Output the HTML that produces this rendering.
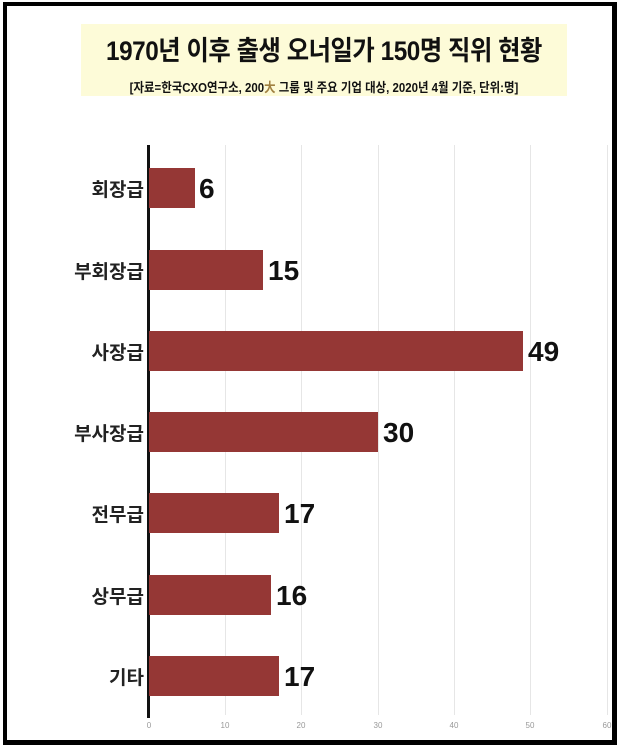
<!DOCTYPE html>
<html><head><meta charset="utf-8"><style>
body{margin:0;width:620px;height:746px;background:#fff;position:relative;overflow:hidden;font-family:"Liberation Sans","Noto Sans CJK KR",sans-serif}
.frame{position:absolute;left:3px;top:2px;width:605px;height:734px;border:4px solid #000;border-right-width:5px;border-bottom-width:5px}
.hl{position:absolute;left:81px;top:24px;width:486px;height:72px;background:#fdfbd8}
.t{position:absolute;left:81px;width:486px;text-align:center;font-weight:bold;color:#111;white-space:nowrap}
.g{position:absolute;top:145px;width:1px;height:570px;background:#e6e6e6}
.bar{position:absolute;left:149px;height:40px;background:#953735}
.lab{position:absolute;right:476px;font-weight:bold;font-size:19px;color:#222;text-align:right}
.v{position:absolute;font-weight:bold;font-size:28px;color:#111}
.tk{position:absolute;top:721px;font-size:8px;color:#999;width:20px;margin-left:-10px;text-align:center}
</style></head><body>
<div class="frame"></div>
<div class="hl"></div>
<div class="t" style="top:29px;font-size:27px;transform:scaleX(0.9);letter-spacing:-0.5px">1970년 이후 출생 오너일가 150명 직위 현황</div>
<div class="t" style="top:77px;font-size:13px;transform:scaleX(0.88)">[자료=한국CXO연구소, 200<span style="color:#a08040">大</span> 그룹 및 주요 기업 대상, 2020년 4월 기준, 단위:명]</div>
<div class="g" style="left:225px"></div><div class="g" style="left:301px"></div><div class="g" style="left:378px"></div><div class="g" style="left:454px"></div><div class="g" style="left:530px"></div><div class="g" style="left:607px"></div>
<div style="position:absolute;left:147px;top:145px;width:3px;height:573px;background:#111"></div>
<div class="bar" style="top:168px;width:46px"></div><div class="lab" style="top:175px">회장급</div><div class="v" style="left:199px;top:173px">6</div>
<div class="bar" style="top:250px;width:114px"></div><div class="lab" style="top:257px">부회장급</div><div class="v" style="left:268px;top:255px">15</div>
<div class="bar" style="top:331px;width:374px"></div><div class="lab" style="top:338px">사장급</div><div class="v" style="left:528px;top:336px">49</div>
<div class="bar" style="top:412px;width:229px"></div><div class="lab" style="top:419px">부사장급</div><div class="v" style="left:383px;top:417px">30</div>
<div class="bar" style="top:493px;width:130px"></div><div class="lab" style="top:500px">전무급</div><div class="v" style="left:284px;top:498px">17</div>
<div class="bar" style="top:575px;width:122px"></div><div class="lab" style="top:582px">상무급</div><div class="v" style="left:276px;top:580px">16</div>
<div class="bar" style="top:656px;width:130px"></div><div class="lab" style="top:663px">기타</div><div class="v" style="left:284px;top:661px">17</div>
<div class="tk" style="left:149px">0</div><div class="tk" style="left:225px">10</div><div class="tk" style="left:301px">20</div><div class="tk" style="left:378px">30</div><div class="tk" style="left:454px">40</div><div class="tk" style="left:530px">50</div><div class="tk" style="left:607px">60</div>
</body></html>
